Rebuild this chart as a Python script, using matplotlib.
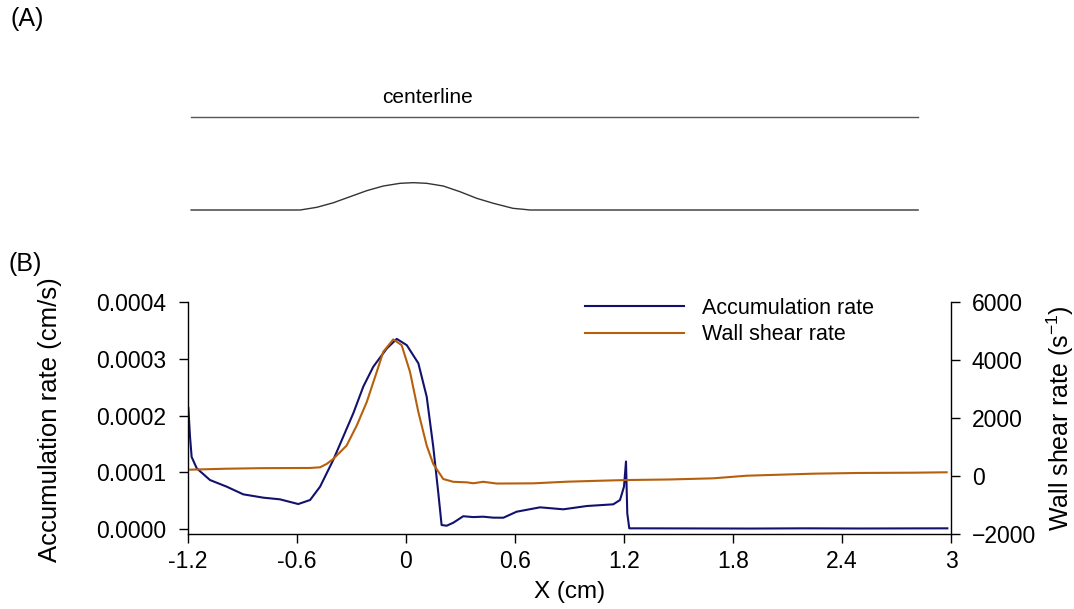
import matplotlib
matplotlib.use("Agg")
import matplotlib.pyplot as plt
import numpy as np

plt.rcParams['font.family'] = ['Liberation Sans', 'DejaVu Sans']
plt.rcParams['mathtext.fontset'] = 'custom'
plt.rcParams['mathtext.rm'] = 'Liberation Sans'
plt.rcParams['mathtext.it'] = 'Liberation Sans'

# ── Dados ──────────────────────────────────────────────────────────────
# Geometria da estenose (painel A): altura da parede, linha central = 1
x_parede = [-1.183, -0.583, -0.491, -0.400, -0.308, -0.216, -0.125, -0.033,
            0.040, 0.114, 0.205, 0.297, 0.389, 0.481, 0.517, 0.589, 0.644,
            0.683, 2.819]
h_parede = [0.0, 0.0, 0.029, 0.078, 0.143, 0.208, 0.258, 0.287, 0.294,
            0.287, 0.258, 0.197, 0.126, 0.072, 0.054, 0.018, 0.008, 0.0, 0.0]
x_centro = [-1.183, 2.819]
h_centro = [1.0, 1.0]

# Taxa de acumulação (cm/s)
x_acum = [-1.198, -1.189, -1.180, -1.152, -1.079, -0.987, -0.896, -0.785,
          -0.694, -0.593, -0.528, -0.473, -0.400, -0.345, -0.290, -0.235,
          -0.180, -0.106, -0.051, 0.004, 0.068, 0.114, 0.150, 0.178, 0.196,
          0.224, 0.260, 0.315, 0.370, 0.425, 0.480, 0.536, 0.609, 0.738,
          0.866, 0.995, 1.141, 1.178, 1.200, 1.211, 1.218, 1.229, 1.288,
          1.600, 1.900, 2.200, 2.500, 2.800, 2.980]
y_acum = [0.000213, 0.000163, 0.000127, 0.000107, 0.0000863, 0.0000746,
          0.0000611, 0.0000552, 0.0000523, 0.0000440, 0.0000511, 0.0000746,
          0.000122, 0.000163, 0.000204, 0.000251, 0.000286, 0.000318,
          0.000335, 0.000324, 0.000292, 0.000233, 0.000145, 0.0000629,
          0.0000070, 0.0000058, 0.0000110, 0.0000225, 0.0000210, 0.0000217,
          0.0000200, 0.0000199, 0.0000305, 0.0000382, 0.0000347, 0.0000405,
          0.0000435, 0.0000511, 0.0000746, 0.000119, 0.0000276, 0.0000012,
          0.0000012, 0.0000010, 0.0000008, 0.0000012, 0.0000009, 0.0000011,
          0.0000012]

# Taxa de cisalhamento na parede (1/s)
x_cis = [-1.189, -1.000, -0.800, -0.528, -0.473, -0.437, -0.400, -0.327,
         -0.271, -0.216, -0.161, -0.125, -0.070, -0.024, 0.022, 0.068,
         0.114, 0.150, 0.205, 0.260, 0.333, 0.371, 0.425, 0.499, 0.700,
         0.884, 1.067, 1.214, 1.450, 1.691, 1.875, 2.058, 2.242, 2.481,
         2.793, 2.976]
y_cis = [218, 250, 270, 277, 300, 415, 589, 1049, 1742, 2552, 3591, 4284,
         4710, 4512, 3591, 2206, 1049, 415, -104, -200, -218, -250, -200,
         -260, -253, -197, -163, -139, -120, -80, 10, 45, 80, 104, 114, 128]

xticks = [-1.2, -0.6, 0, 0.6, 1.2, 1.8, 2.4, 3]
xtick_labels = ["-1.2", "-0.6", "0", "0.6", "1.2", "1.8", "2.4", "3"]
yticks_esq = [0.0, 0.0001, 0.0002, 0.0003, 0.0004]
yticks_dir = [-2000, 0, 2000, 4000, 6000]

AZUL = '#12126e'
LARANJA = '#b65f0c'

W, H = 1074, 609
fig = plt.figure(figsize=(W / 100, H / 100), dpi=100)


def px(x0, y0, x1, y1):
    return [x0 / W, 1 - y1 / H, (x1 - x0) / W, (y1 - y0) / H]


# ── Painel A ──────────────────────────────────────────────────────────
axA = fig.add_axes(px(188, 100, 951, 230))
axA.plot(x_centro, h_centro, color='#555555', lw=1.0)
axA.plot(x_parede, h_parede, color='#333333', lw=1.0)
axA.set_xlim(-1.2, 3)
axA.set_ylim(-0.215, 1.183)
axA.axis('off')
axA.text(0.116, 1.215, "centerline", ha='center', va='center', fontsize=15)

# ── Painel B ──────────────────────────────────────────────────────────
ax = fig.add_axes(px(188, 302, 951, 534))
ax2 = ax.twinx()

l1, = ax.plot(x_acum, y_acum, color=AZUL, lw=1.5, label="Accumulation rate")
l2, = ax2.plot(x_cis, y_cis, color=LARANJA, lw=1.5, label="Wall shear rate")

ax.set_xlim(-1.2, 3)
ax.set_ylim(-0.0000088, 0.0004)
ax2.set_ylim(-2000, 6000)

ax.set_xticks(xticks)
ax.set_xticklabels(xtick_labels)
ax.set_yticks(yticks_esq)
ax.set_yticklabels([f"{v:.4f}" for v in yticks_esq])
ax2.set_yticks(yticks_dir)

for s in ['top', 'right']:
    ax.spines[s].set_visible(False)
for s in ['top', 'left', 'bottom']:
    ax2.spines[s].set_visible(False)
for s in ['left', 'bottom']:
    ax.spines[s].set_linewidth(1.0)
ax2.spines['right'].set_linewidth(1.0)

ax.tick_params(axis='y', direction='out', length=6.5, width=1.0,
               labelsize=16.5, pad=9)
ax.tick_params(axis='x', direction='out', length=6.5, width=1.0,
               labelsize=16.5, pad=5)
ax2.tick_params(axis='y', direction='out', length=6.5, width=1.0,
                labelsize=16.5, pad=8.5)

fig.text(50 / W, 1 - 420 / H, "Accumulation rate (cm/s)", rotation=90,
         ha='center', va='center', fontsize=18.5)
fig.text(1060 / W, 1 - 418 / H, r"Wall shear rate (s$^{\mathregular{-1}}$)",
         rotation=90, ha='center', va='center', fontsize=18)
fig.text(570 / W, 1 - 592 / H, "X (cm)", ha='center', va='center',
         fontsize=17.5)

fig.legend(handles=[l1, l2], loc='upper left',
           bbox_to_anchor=(585 / W, 1 - 298 / H), frameon=False,
           fontsize=15.5, handlelength=4.6, handletextpad=0.85,
           labelspacing=0.25, borderpad=0, borderaxespad=0)

fig.text(10 / W, 1 - 19 / H, "(A)", ha='left', va='center', fontsize=18)
fig.text(8 / W, 1 - 264 / H, "(B)", ha='left', va='center', fontsize=18)

fig.savefig("out.png", dpi=100)
plt.close(fig)
